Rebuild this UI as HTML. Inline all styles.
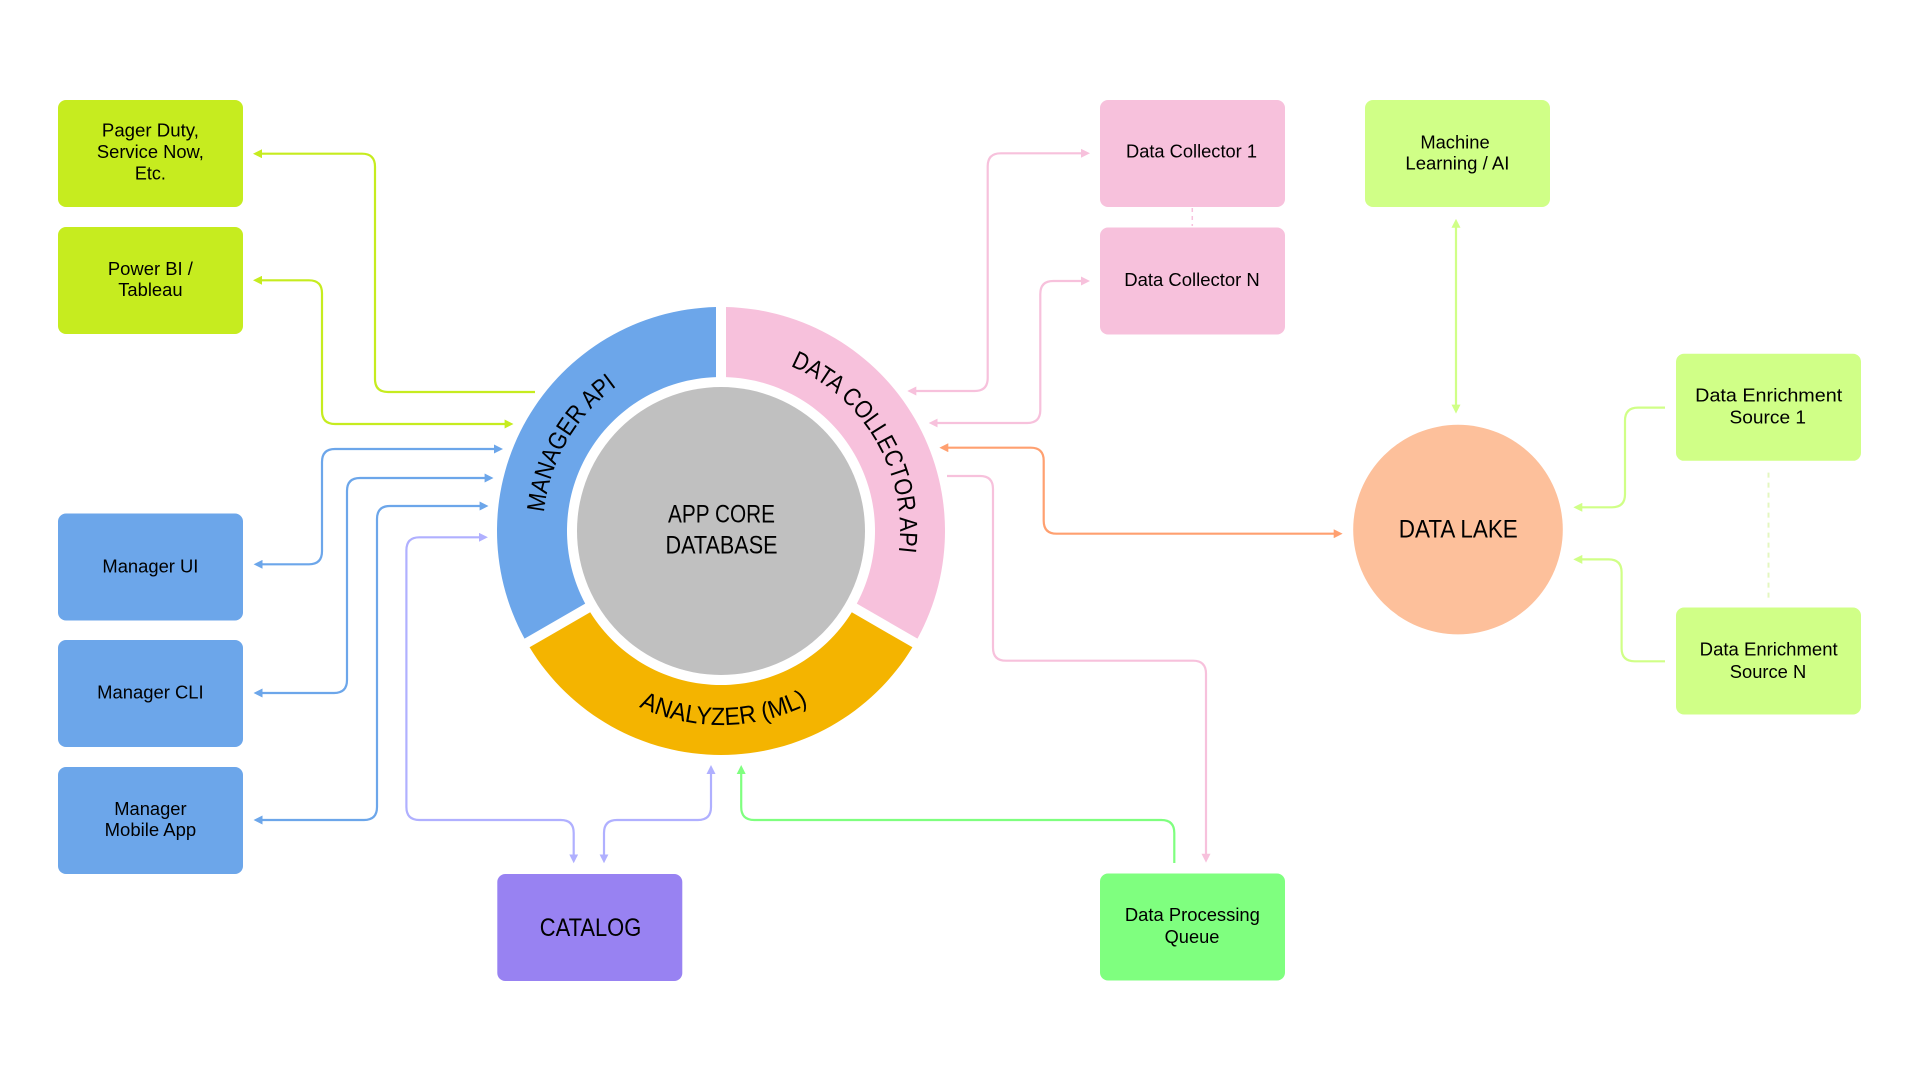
<!DOCTYPE html>
<html><head><meta charset="utf-8"><title>Architecture diagram</title>
<style>
html,body{margin:0;padding:0;background:#fff;width:1920px;height:1080px;overflow:hidden}
svg{display:block}
text{font-family:"Liberation Sans",sans-serif;fill:#000}
.b text,text.b{font-size:18px;text-anchor:middle}
.l{font-size:25px;text-anchor:middle}
.c{font-size:25px}
path.w{fill:none;stroke-width:2.2}
</style></head><body>
<svg width="1920" height="1080" viewBox="0 0 1920 1080" xmlns="http://www.w3.org/2000/svg">
<defs>
<marker id="mLime" markerUnits="userSpaceOnUse" viewBox="0 0 9 9" refX="5" refY="4.5" markerWidth="9" markerHeight="9" orient="auto-start-reverse"><path d="M0 0L9 4.5L0 9z" fill="#c6ec1f"/></marker>
<marker id="mBlue" markerUnits="userSpaceOnUse" viewBox="0 0 9 9" refX="5" refY="4.5" markerWidth="9" markerHeight="9" orient="auto-start-reverse"><path d="M0 0L9 4.5L0 9z" fill="#6ca6ea"/></marker>
<marker id="mPurple" markerUnits="userSpaceOnUse" viewBox="0 0 9 9" refX="5" refY="4.5" markerWidth="9" markerHeight="9" orient="auto-start-reverse"><path d="M0 0L9 4.5L0 9z" fill="#b0b0ff"/></marker>
<marker id="mPink" markerUnits="userSpaceOnUse" viewBox="0 0 9 9" refX="5" refY="4.5" markerWidth="9" markerHeight="9" orient="auto-start-reverse"><path d="M0 0L9 4.5L0 9z" fill="#f7c1dc"/></marker>
<marker id="mOrange" markerUnits="userSpaceOnUse" viewBox="0 0 9 9" refX="5" refY="4.5" markerWidth="9" markerHeight="9" orient="auto-start-reverse"><path d="M0 0L9 4.5L0 9z" fill="#ffa070"/></marker>
<marker id="mGreen" markerUnits="userSpaceOnUse" viewBox="0 0 9 9" refX="5" refY="4.5" markerWidth="9" markerHeight="9" orient="auto-start-reverse"><path d="M0 0L9 4.5L0 9z" fill="#7fff7f"/></marker>
<marker id="mLight" markerUnits="userSpaceOnUse" viewBox="0 0 9 9" refX="5" refY="4.5" markerWidth="9" markerHeight="9" orient="auto-start-reverse"><path d="M0 0L9 4.5L0 9z" fill="#d0ff87"/></marker>
<path id="arcM" d="M544 512.4A178 178 0 0 1 640 372"/>
<path id="arcD" d="M790.4 366A179 179 0 0 1 893.9 577.3"/>
<path id="arcA" d="M639 706.8A194 194 0 0 0 832.3 689.9"/>
</defs>

<!-- ring -->
<path d="M716 307.06V377.08A154 154 0 0 0 585.2 603.63L524.56 638.64A224 224 0 0 1 716 307.06z" fill="#6ca6ea"/>
<path d="M726 307.06V377.08A154 154 0 0 1 856.8 603.63L917.44 638.64A224 224 0 0 0 726 307.06z" fill="#f7c1dc"/>
<path d="M529.56 647.3L590.2 612.29A154 154 0 0 0 851.8 612.29L912.44 647.3A224 224 0 0 1 529.56 647.3z" fill="#f4b400"/>
<circle cx="721" cy="531" r="144" fill="#c0c0c0"/>
<text class="l" x="721.5" y="522.7" textLength="107" lengthAdjust="spacingAndGlyphs">APP CORE</text>
<text class="l" x="721.5" y="553.7" textLength="112" lengthAdjust="spacingAndGlyphs">DATABASE</text>
<text class="c"><textPath href="#arcM" textLength="150" lengthAdjust="spacingAndGlyphs">MANAGER API</textPath></text>
<text class="c"><textPath href="#arcD" textLength="231" lengthAdjust="spacingAndGlyphs">DATA COLLECTOR API</textPath></text>
<text class="c"><textPath href="#arcA" textLength="175" lengthAdjust="spacingAndGlyphs">ANALYZER (ML)</textPath></text>

<!-- data lake -->
<circle cx="1458" cy="529.6" r="104.8" fill="#fdc09b"/>
<text class="l" x="1458.3" y="537.7" textLength="119" lengthAdjust="spacingAndGlyphs">DATA LAKE</text>

<!-- boxes -->
<rect x="58" y="100" width="185" height="107" rx="8" fill="#c6ec1f"/>
<rect x="58" y="227" width="185" height="107" rx="8" fill="#c6ec1f"/>
<rect x="58" y="513.5" width="185" height="107" rx="8" fill="#6ca6ea"/>
<rect x="58" y="640" width="185" height="107" rx="8" fill="#6ca6ea"/>
<rect x="58" y="767" width="185" height="107" rx="8" fill="#6ca6ea"/>
<rect x="497.3" y="874" width="185" height="107" rx="8" fill="#9882f2"/>
<rect x="1100" y="100" width="185" height="107" rx="8" fill="#f7c1dc"/>
<rect x="1100" y="227.5" width="185" height="107" rx="8" fill="#f7c1dc"/>
<rect x="1100" y="873.5" width="185" height="107" rx="8" fill="#7fff7f"/>
<rect x="1365" y="100" width="185" height="107" rx="8" fill="#d0ff87"/>
<rect x="1676" y="353.8" width="185" height="107" rx="8" fill="#d0ff87"/>
<rect x="1676" y="607.5" width="185" height="107" rx="8" fill="#d0ff87"/>

<!-- box labels -->
<g class="b">
<text x="150.4" y="136.6" textLength="97" lengthAdjust="spacingAndGlyphs">Pager Duty,</text>
<text x="150.4" y="158" textLength="107" lengthAdjust="spacingAndGlyphs">Service Now,</text>
<text x="150.4" y="179.6" textLength="31" lengthAdjust="spacingAndGlyphs">Etc.</text>
<text x="150.4" y="275" textLength="85" lengthAdjust="spacingAndGlyphs">Power BI /</text>
<text x="150.4" y="296" textLength="64.3" lengthAdjust="spacingAndGlyphs">Tableau</text>
<text x="150.4" y="572.3" textLength="96" lengthAdjust="spacingAndGlyphs">Manager UI</text>
<text x="150.4" y="698.7" textLength="106.5" lengthAdjust="spacingAndGlyphs">Manager CLI</text>
<text x="150.4" y="815" textLength="72.3" lengthAdjust="spacingAndGlyphs">Manager</text>
<text x="150.4" y="836" textLength="91.5" lengthAdjust="spacingAndGlyphs">Mobile App</text>
<text x="1191.5" y="157.5" textLength="131" lengthAdjust="spacingAndGlyphs">Data Collector 1</text>
<text x="1192" y="286" textLength="135.5" lengthAdjust="spacingAndGlyphs">Data Collector N</text>
<text x="1192.4" y="921" textLength="135" lengthAdjust="spacingAndGlyphs">Data Processing</text>
<text x="1192" y="942.8" textLength="54.7" lengthAdjust="spacingAndGlyphs">Queue</text>
<text x="1455" y="148.5" textLength="69.3" lengthAdjust="spacingAndGlyphs">Machine</text>
<text x="1457.4" y="169.4" textLength="104" lengthAdjust="spacingAndGlyphs">Learning / AI</text>
<text x="1768.7" y="401.5" textLength="147" lengthAdjust="spacingAndGlyphs">Data Enrichment</text>
<text x="1767.8" y="423.6" textLength="76.5" lengthAdjust="spacingAndGlyphs">Source 1</text>
<text x="1768.7" y="655.7" textLength="138" lengthAdjust="spacingAndGlyphs">Data Enrichment</text>
<text x="1768" y="677.8" textLength="76.5" lengthAdjust="spacingAndGlyphs">Source N</text>
</g>
<text class="l" x="590.5" y="935.8" textLength="101.5" lengthAdjust="spacingAndGlyphs">CATALOG</text>

<!-- connectors -->
<path class="w" stroke="#c6ec1f" marker-start="url(#mLime)" d="M257 153.7H362Q375 153.7 375 166.7V379Q375 392 388 392H535"/>
<path class="w" stroke="#c6ec1f" marker-start="url(#mLime)" marker-end="url(#mLime)" d="M257 280.3H309Q322 280.3 322 293.3V411Q322 424 335 424H509.6"/>
<path class="w" stroke="#6ca6ea" marker-start="url(#mBlue)" marker-end="url(#mBlue)" d="M257.6 564.3H309Q322 564.3 322 551.3V462Q322 449 335 449H499"/>
<path class="w" stroke="#6ca6ea" marker-start="url(#mBlue)" marker-end="url(#mBlue)" d="M257.6 693H334Q347 693 347 680V491Q347 478 360 478H489.6"/>
<path class="w" stroke="#6ca6ea" marker-start="url(#mBlue)" marker-end="url(#mBlue)" d="M257.6 820H364Q377 820 377 807V519Q377 506 390 506H484.6"/>
<path class="w" stroke="#b0b0ff" marker-start="url(#mPurple)" marker-end="url(#mPurple)" d="M483.9 537.3H419.4Q406.4 537.3 406.4 550.3V807Q406.4 820 419.4 820H560.7Q573.7 820 573.7 833V859.3"/>
<path class="w" stroke="#b0b0ff" marker-start="url(#mPurple)" marker-end="url(#mPurple)" d="M604 859.3V833Q604 820 617 820H698Q711 820 711 807V769"/>
<path class="w" stroke="#7fff7f" marker-end="url(#mGreen)" d="M1174.3 863V833Q1174.3 820 1161.3 820H754.2Q741.2 820 741.2 807V769"/>
<path class="w" stroke="#f7c1dc" marker-end="url(#mPink)" d="M947 476H980Q993 476 993 489V647.7Q993 660.7 1006 660.7H1193Q1206 660.7 1206 673.7V858.7"/>
<path class="w" stroke="#f7c1dc" marker-start="url(#mPink)" marker-end="url(#mPink)" d="M911.3 391H974.7Q987.7 391 987.7 378V166.3Q987.7 153.3 1000.7 153.3H1086"/>
<path class="w" stroke="#f7c1dc" marker-start="url(#mPink)" marker-end="url(#mPink)" d="M932.7 423H1027.3Q1040.3 423 1040.3 410V294Q1040.3 281 1053.3 281H1086"/>
<path class="w" stroke="#ffa070" marker-start="url(#mOrange)" marker-end="url(#mOrange)" d="M943.3 447.7H1030.7Q1043.7 447.7 1043.7 460.7V520.7Q1043.7 533.7 1056.7 533.7H1338.7"/>
<path class="w" stroke="#d0ff87" marker-start="url(#mLight)" marker-end="url(#mLight)" d="M1456 222.8V409.6"/>
<path class="w" stroke="#d0ff87" marker-end="url(#mLight)" d="M1665 407.6H1638Q1625 407.6 1625 420.6V494.3Q1625 507.3 1612 507.3H1577.3"/>
<path class="w" stroke="#d0ff87" marker-end="url(#mLight)" d="M1665 661.3H1634.6Q1621.6 661.3 1621.6 648.3V572.4Q1621.6 559.4 1608.6 559.4H1577.3"/>
<path fill="none" stroke="#f7c1dc" stroke-width="1.5" stroke-dasharray="4 4" d="M1192.3 208V226"/>
<path fill="none" stroke="#e4f7c0" stroke-width="2" stroke-dasharray="5 5" d="M1768.5 472.6V598.4"/>
</svg>
</body></html>
